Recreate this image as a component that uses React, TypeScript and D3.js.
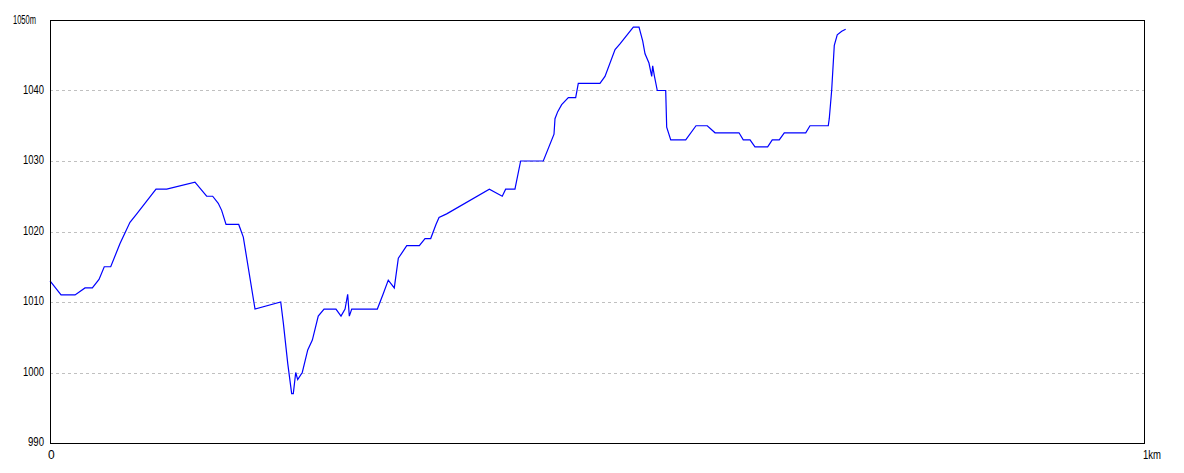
import React from "react";
import * as d3 from "d3";

const distKm: number[] = [
  0, 0.0101, 0.0229, 0.032, 0.0387, 0.0448, 0.0496, 0.0555, 0.064, 0.0731,
  0.0793, 0.0969, 0.1067, 0.1325, 0.1432, 0.1487, 0.1538, 0.1569, 0.1609, 0.1725,
  0.1767, 0.1874, 0.2109, 0.2133, 0.2173, 0.2209, 0.2224, 0.2246, 0.2264, 0.2306,
  0.2356, 0.2398, 0.2452, 0.2505, 0.2614, 0.266, 0.2697, 0.2721, 0.2736, 0.2758,
  0.2992, 0.3047, 0.3092, 0.3147, 0.3184, 0.3261, 0.3376, 0.3428, 0.348, 0.3528,
  0.3556, 0.3626, 0.4016, 0.4134, 0.4165, 0.425, 0.4302, 0.4509, 0.4607, 0.4616,
  0.4641, 0.4677, 0.4738, 0.4805, 0.4829, 0.5027, 0.5073, 0.5165, 0.521, 0.5332,
  0.5384, 0.5418, 0.5439, 0.5475, 0.55, 0.5509, 0.5524, 0.5551, 0.5628, 0.5637,
  0.5674, 0.5811, 0.5905, 0.6008, 0.6079, 0.6298, 0.6337, 0.6399, 0.6444, 0.656,
  0.6602, 0.6666, 0.6712, 0.6908, 0.6947, 0.7114, 0.7123, 0.7145, 0.7169, 0.7196,
  0.7237, 0.7273,
];

const elevM: number[] = [
  1013, 1011, 1011, 1012, 1012, 1013.2, 1015, 1015, 1018.3, 1021.3,
  1022.5, 1026, 1026, 1027, 1025, 1025, 1024, 1023, 1021, 1021,
  1019.2, 1009, 1010, 1007, 1001.3, 997, 997, 1000, 999, 1000,
  1003.2, 1004.6, 1008, 1009, 1009, 1008, 1009, 1011.1, 1008, 1009,
  1009, 1011.2, 1013.1, 1012, 1016.2, 1018, 1018, 1019, 1019, 1021,
  1022, 1022.5, 1026, 1025, 1026, 1026, 1030, 1030, 1033.8, 1036,
  1037, 1038, 1039, 1039, 1041, 1041, 1042, 1045.8, 1046.6, 1049,
  1049, 1047, 1045.2, 1043.9, 1042, 1043.5, 1042.1, 1040, 1040, 1034.8,
  1033, 1033, 1035, 1035, 1034, 1034, 1033, 1033, 1032, 1032,
  1033, 1033, 1034, 1034, 1035, 1035, 1036, 1040, 1046.4, 1047.9,
  1048.4, 1048.7,
];

const yTicks: number[] = [990, 1000, 1010, 1020, 1030, 1040, 1050];
const xTickLabels: string[] = ["0", "1km"];

export default function App() {
  const W = 1184;
  const H = 473;
  const left = 50;
  const right = 1144;
  const top = 20;
  const bottom = 443;

  const x = d3.scaleLinear().domain([0, 1]).range([left, right]);
  const y = d3.scaleLinear().domain([990, 1050]).range([bottom, top]);

  const pts: [number, number][] = distKm.map((d, i) => [d, elevM[i]]);
  const line = d3
    .line<[number, number]>()
    .x((d) => x(d[0]))
    .y((d) => y(d[1]));

  const font = "'Liberation Sans', Arial, sans-serif";
  const fs = 12;

  return (
    <svg
      width={W}
      height={H}
      style={{ position: "absolute", left: 0, top: 0, background: "#fff" }}
    >
      <rect x={0} y={0} width={W} height={H} fill="#fff" />
      {yTicks
        .filter((t) => t !== 990 && t !== 1050)
        .map((t) => (
          <line
            key={"g" + t}
            x1={left}
            x2={right}
            y1={Math.round(y(t)) + 0.5}
            y2={Math.round(y(t)) + 0.5}
            stroke="#c0c0c0"
            strokeDasharray="3,3"
            shapeRendering="crispEdges"
          />
        ))}
      <path
        d={line(pts) || ""}
        fill="none"
        stroke="#0000ff"
        strokeWidth={1.2}
      />
      <rect
        x={left + 0.5}
        y={top + 0.5}
        width={right - left}
        height={bottom - top}
        fill="none"
        stroke="#000"
        strokeWidth={1}
        shapeRendering="crispEdges"
      />
      {yTicks.map((t) =>
        t === 1050 ? (
          <text
            key={"t" + t}
            x={13}
            y={y(t)}
            dy="0.35em"
            fontFamily={font}
            fontSize={fs}
            textLength={23}
            lengthAdjust="spacingAndGlyphs"
            fill="#000"
          >
            {t + "m"}
          </text>
        ) : (
          <text
            key={"t" + t}
            x={44}
            y={y(t) - 1}
            dy="0.35em"
            textAnchor="end"
            fontFamily={font}
            fontSize={fs}
            fill="#000"
            textLength={String(t).length === 3 ? 16 : 21}
            lengthAdjust="spacingAndGlyphs"
          >
            {t}
          </text>
        )
      )}
      <text
        x={x(0) - 2}
        y={455}
        dy="0.35em"
        textAnchor="start"
        fontFamily={font}
        fontSize={fs}
        fill="#000"
      >
        {xTickLabels[0]}
      </text>
      <text
        x={x(1) - 1}
        y={455}
        dy="0.35em"
        textAnchor="start"
        fontFamily={font}
        fontSize={fs}
        fill="#000"
        textLength={18}
        lengthAdjust="spacingAndGlyphs"
      >
        {xTickLabels[1]}
      </text>
    </svg>
  );
}
